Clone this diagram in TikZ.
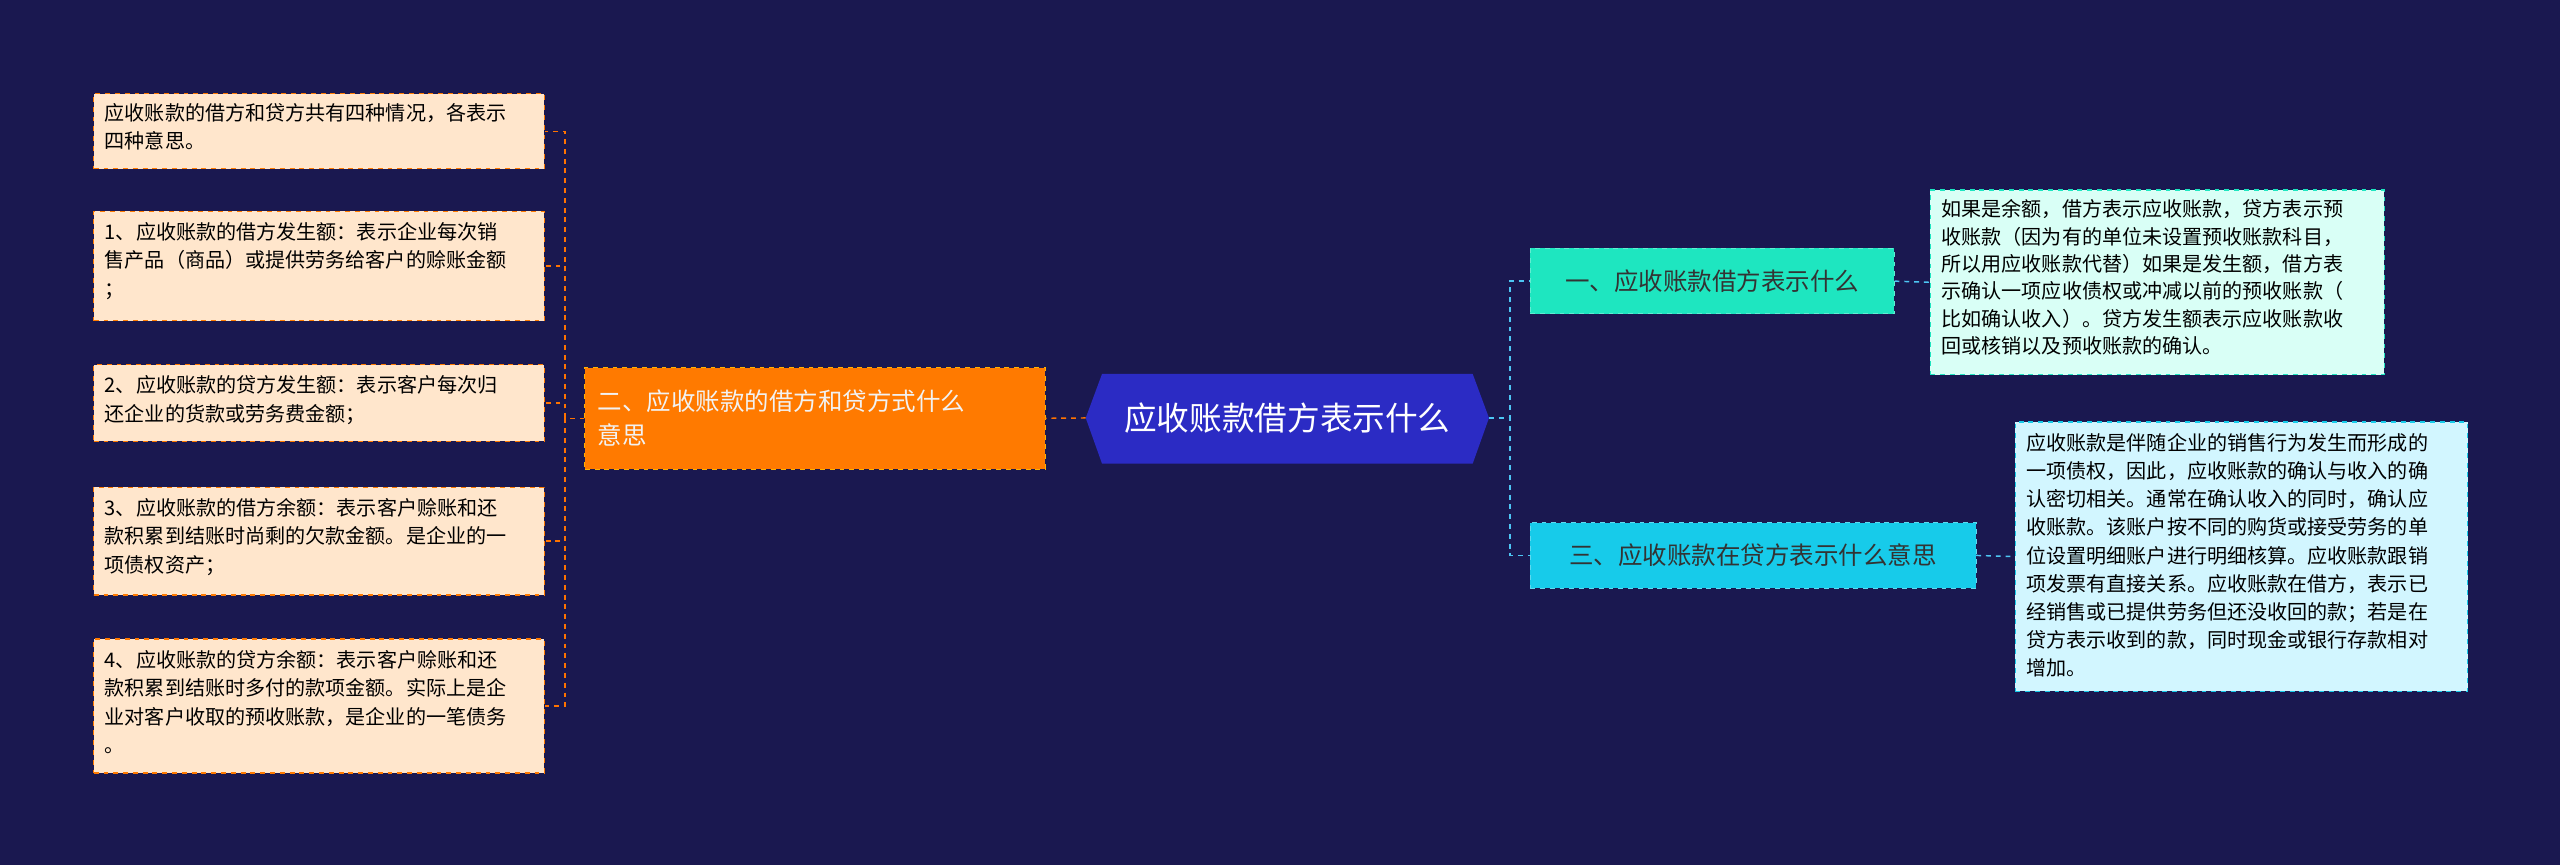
\documentclass[tikz,border=0pt]{standalone}
\usepackage{fontspec}
\setmainfont{Noto Sans CJK SC}
\begin{document}
\begin{tikzpicture}[x=1pt,y=-1pt,
 leaf/.style={draw=#1,dashed,line width=0.8pt,anchor=north west,align=left,inner sep=0pt,text=black!85,font=\fontsize{12.3}{17.5}\selectfont},
 lcon/.style={draw=orange!90!red,dashed,line width=0.9pt},
 rcon/.style={draw=cyan!70!white,dashed,line width=0.9pt}]
\definecolor{bg}{HTML}{1A1850}
\definecolor{peach}{HTML}{FFE6CC}
\definecolor{orng}{HTML}{FF7A00}
\definecolor{cen}{HTML}{2B2BC4}
\definecolor{tg}{HTML}{1EE6C0}
\definecolor{cy}{HTML}{17CBEA}
\definecolor{lt1}{HTML}{D9FFF6}
\definecolor{lt2}{HTML}{D2F6FF}
\fill[bg] (0,0) rectangle (1568,530);
\useasboundingbox (0,0) rectangle (1568,530);
% center
\fill[cen] (665,256) -- (675,229) -- (902,229) -- (912,256) -- (902,284) -- (675,284) -- cycle;
\node[text=white,font=\fontsize{20}{24}\selectfont] (c) at (788.5,256) {应收账款借方表示什么};
\coordinate (cl) at (665,256); \coordinate (cr) at (912,256);
% left main
\node[fill=orng,draw=orange!60!yellow,dashed,minimum width=282pt,minimum height=62pt,anchor=north west,align=left,text width=266pt,font=\fontsize{15}{21}\selectfont,text=white!95!black] (o) at (358,225) {二、应收账款的借方和贷方式什么\\意思};
% leaves
\node[leaf=orng,fill=peach,minimum width=276pt,minimum height=46pt,text width=266pt] (l1) at (57,57) {};
\node[anchor=north west,align=left,font=\fontsize{12.3}{17.5}\selectfont,inner sep=0pt] at (64,63) {应收账款的借方和贷方共有四种情况，各表示\\四种意思。};
\node[leaf=orng,fill=peach,minimum width=276pt,minimum height=67pt] (l2) at (57,129) {};
\node[anchor=north west,align=left,font=\fontsize{12.3}{17.5}\selectfont,inner sep=0pt] at (64,136) {1、应收账款的借方发生额：表示企业每次销\\售产品（商品）或提供劳务给客户的赊账金额\\；};
\node[leaf=orng,fill=peach,minimum width=276pt,minimum height=47pt] (l3) at (57,223) {};
\node[anchor=north west,align=left,font=\fontsize{12.3}{17.5}\selectfont,inner sep=0pt] at (64,230) {2、应收账款的贷方发生额：表示客户每次归\\还企业的货款或劳务费金额；};
\node[leaf=orng,fill=peach,minimum width=276pt,minimum height=66pt] (l4) at (57,298) {};
\node[anchor=north west,align=left,font=\fontsize{12.3}{17.5}\selectfont,inner sep=0pt] at (64,305) {3、应收账款的借方余额：表示客户赊账和还\\款积累到结账时尚剩的欠款金额。是企业的一\\项债权资产；};
\node[leaf=orng,fill=peach,minimum width=276pt,minimum height=82pt] (l5) at (57,391) {};
\node[anchor=north west,align=left,font=\fontsize{12.3}{17.5}\selectfont,inner sep=0pt] at (64,398) {4、应收账款的贷方余额：表示客户赊账和还\\款积累到结账时多付的款项金额。实际上是企\\业对客户收取的预收账款，是企业的一笔债务\\。};
\draw[lcon] (cl) -- (o.east);
\foreach \n in {l1,l2,l3,l4,l5} \draw[lcon] (o.west) -- ++(-12,0) |- (\n.east);
% right
\node[fill=tg,draw=tg!70!white,dashed,minimum width=223pt,minimum height=40pt,anchor=north west,font=\fontsize{15}{20}\selectfont,text=black!80] (r1) at (937,152) {一、应收账款借方表示什么};
\node[fill=cy,draw=cy!70!white,dashed,minimum width=273pt,minimum height=40pt,anchor=north west,font=\fontsize{15}{20}\selectfont,text=black!80] (r2) at (937,320) {三、应收账款在贷方表示什么意思};
\node[leaf=tg,fill=lt1,minimum width=278pt,minimum height=113pt] (q1) at (1182,116) {};
\node[anchor=north west,align=left,font=\fontsize{12.3}{16.8}\selectfont,inner sep=0pt] at (1189,122) {如果是余额，借方表示应收账款，贷方表示预\\收账款（因为有的单位未设置预收账款科目，\\所以用应收账款代替）如果是发生额，借方表\\示确认一项应收债权或冲减以前的预收账款（\\比如确认收入）。贷方发生额表示应收账款收\\回或核销以及预收账款的确认。};
\node[leaf=cy,fill=lt2,minimum width=277pt,minimum height=165pt] (q2) at (1234,258) {};
\node[anchor=north west,align=left,font=\fontsize{12.3}{17.3}\selectfont,inner sep=0pt] at (1241,265) {应收账款是伴随企业的销售行为发生而形成的\\一项债权，因此，应收账款的确认与收入的确\\认密切相关。通常在确认收入的同时，确认应\\收账款。该账户按不同的购货或接受劳务的单\\位设置明细账户进行明细核算。应收账款跟销\\项发票有直接关系。应收账款在借方，表示已\\经销售或已提供劳务但还没收回的款；若是在\\贷方表示收到的款，同时现金或银行存款相对\\增加。};
\draw[rcon] (cr) -- ++(13,0) |- (r1.west);
\draw[rcon] (cr) -- ++(13,0) |- (r2.west);
\draw[rcon] (r1.east) -- (q1.west);
\draw[rcon] (r2.east) -- (q2.west);
\end{tikzpicture}
\end{document}
